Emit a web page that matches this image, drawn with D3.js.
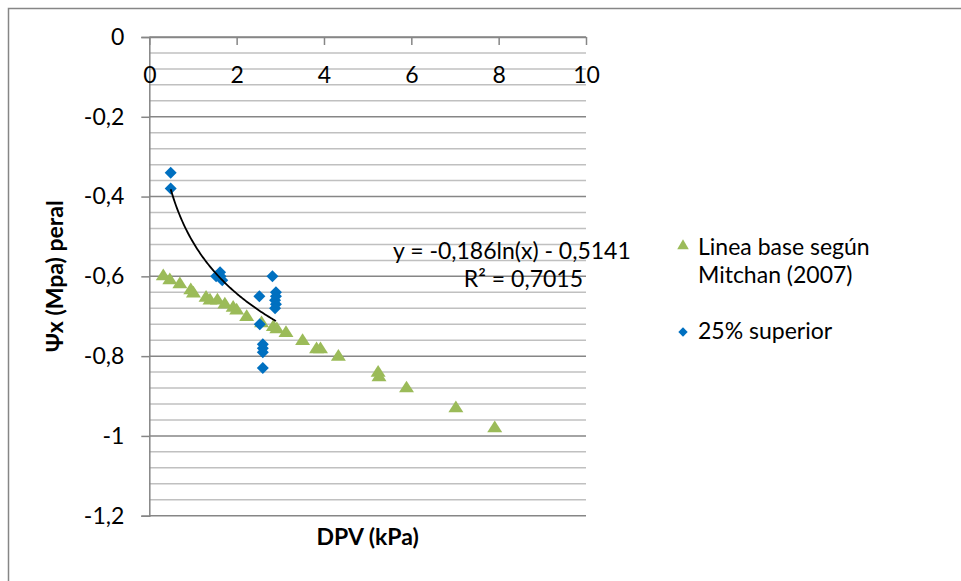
<!DOCTYPE html>
<html>
<head>
<meta charset="utf-8">
<script src="https://cdn.jsdelivr.net/npm/d3@7/dist/d3.min.js"></script>
<style>
  html, body { margin: 0; padding: 0; background: #fff; }
  svg { display: block; font-family: Lato, "Open Sans", sans-serif; }
</style>
</head>
<body>
<svg id="chart" width="961" height="581"></svg>
<script>
// Linea base (Mitchan 2007): DPV (kPa) vs Ψx (MPa)
const baseX = [0.32, 0.47, 0.70, 0.95, 1.01, 1.30, 1.39, 1.56, 1.73, 1.92, 2.00, 2.23, 2.57, 2.84, 2.92, 3.13, 3.51, 3.83, 3.92, 4.33, 5.24, 5.26, 5.89, 7.02, 7.91];
const baseY = [-0.60, -0.61, -0.62, -0.635, -0.643, -0.654, -0.661, -0.661, -0.671, -0.679, -0.686, -0.702, -0.718, -0.727, -0.733, -0.742, -0.762, -0.783, -0.783, -0.802, -0.842, -0.853, -0.881, -0.931, -0.981];

// 25% superior
const supX = [0.49, 0.49, 1.53, 1.62, 1.63, 1.67, 2.52, 2.82, 2.90, 2.90, 2.88, 2.90, 2.88, 2.53, 2.60, 2.60, 2.60, 2.60];
const supY = [-0.34, -0.38, -0.60, -0.59, -0.60, -0.61, -0.65, -0.60, -0.64, -0.65, -0.66, -0.67, -0.68, -0.72, -0.77, -0.78, -0.79, -0.83];

// Logarithmic trend of the 25% superior series
const trendA = -0.186, trendB = -0.5141;
const trendLabel = "y = -0,186ln(x) - 0,5141";
const r2Label = "R² = 0,7015";

const xTicks = [0, 2, 4, 6, 8, 10];
const yTicks = [0, -0.2, -0.4, -0.6, -0.8, -1, -1.2];
const yMinorStep = 0.04;

const seriesNames = ["Linea base según", "Mitchan (2007)", "25% superior"];

const svg = d3.select("#chart");
const green = "#9BBB59", blue = "#0070C0";
const axisGray = "#868686", minorGray = "#C0C0C0";

// chart border
svg.append("rect")
  .attr("x", 8.5).attr("y", 8.5).attr("width", 2000).attr("height", 2000)
  .attr("fill", "none").attr("stroke", axisGray).attr("stroke-width", 1.5);

const x = d3.scaleLinear().domain([0, 10]).range([149.3, 586]);
const y = d3.scaleLinear().domain([0, -1.2]).range([37, 515.7]);

const fmt = v => d3.format("")(+v.toFixed(2)).replace(".", ",").replace("−", "-");

// gridlines: minor every 0.04, major every 0.2
const gridVals = d3.range(0, 31).map(i => -i * yMinorStep);
svg.append("g").selectAll("line").data(gridVals).join("line")
  .attr("x1", x(0)).attr("x2", x(10))
  .attr("y1", d => y(d)).attr("y2", d => y(d))
  .attr("stroke", (d, i) => i % 5 === 0 ? axisGray : minorGray)
  .attr("stroke-width", 1.5);

// y axis
const yAxis = svg.append("g")
  .attr("transform", `translate(${x(0)},0)`)
  .call(d3.axisLeft(y).tickValues(yTicks).tickSize(8).tickPadding(17).tickFormat(fmt));
yAxis.select(".domain").attr("stroke", axisGray).attr("stroke-width", 1.5);
yAxis.selectAll(".tick line").attr("stroke", axisGray).attr("stroke-width", 1.5);
yAxis.selectAll("text").attr("font-size", 23).attr("fill", "#000")
  .attr("font-family", "Lato, 'Open Sans', sans-serif");

// x axis along the top, ticks pointing into the plot, labels below
const xAxis = svg.append("g")
  .attr("transform", `translate(0,${y(0)})`)
  .call(d3.axisBottom(x).tickValues(xTicks).tickSize(8).tickPadding(22).tickSizeOuter(0).tickFormat(d => String(d)));
xAxis.select(".domain").attr("stroke", axisGray).attr("stroke-width", 1.5);
xAxis.selectAll(".tick line").attr("stroke", axisGray).attr("stroke-width", 1.5);
xAxis.selectAll("text").attr("font-size", 23).attr("fill", "#000")
  .attr("font-family", "Lato, 'Open Sans', sans-serif");

// markers
const tri = d3.symbol().type(d3.symbolTriangle).size(88);
const dia = d3.symbol().type(d3.symbolSquare).size(72);

svg.append("g").selectAll("path").data(baseX).join("path")
  .attr("d", tri)
  .attr("transform", (d, i) => `translate(${x(d)},${y(baseY[i])}) scale(1.05,0.95)`)
  .attr("fill", green);

svg.append("g").selectAll("path").data(supX).join("path")
  .attr("d", dia)
  .attr("transform", (d, i) => `translate(${x(d)},${y(supY[i])}) rotate(45)`)
  .attr("fill", blue);

// trend line over the range of the 25% superior series
const tMin = d3.min(supX), tMax = d3.max(supX);
const trendPts = d3.range(0, 101).map(i => {
  const xv = tMin + (tMax - tMin) * i / 100;
  return [xv, trendA * Math.log(xv) + trendB];
});
svg.append("path")
  .attr("d", d3.line().x(d => x(d[0])).y(d => y(d[1]))(trendPts))
  .attr("fill", "none").attr("stroke", "#000").attr("stroke-width", 1.8);

// trend equation
svg.append("text").attr("x", 393).attr("y", 259).attr("font-size", 23).text(trendLabel);
svg.append("text").attr("x", 583).attr("y", 287).attr("font-size", 23)
  .attr("text-anchor", "end").text(r2Label);

// axis titles
svg.append("text").attr("x", (x(0) + x(10)) / 2).attr("y", 545)
  .attr("text-anchor", "middle").attr("font-size", 23).attr("font-weight", "bold")
  .text("DPV (kPa)");
svg.append("text").attr("transform", `translate(63,${(y(0) + y(-1.2)) / 2}) rotate(-90)`)
  .attr("text-anchor", "middle").attr("font-size", 23).attr("font-weight", "bold")
  .text("Ψx (Mpa) peral");

// legend
const lg = svg.append("g");
lg.append("path").attr("d", d3.symbol().type(d3.symbolTriangle).size(58))
  .attr("transform", "translate(683,246)").attr("fill", green);
lg.append("text").attr("x", 698).attr("y", 255).attr("font-size", 23).text(seriesNames[0]);
lg.append("text").attr("x", 698).attr("y", 283).attr("font-size", 23).text(seriesNames[1]);
lg.append("path").attr("d", d3.symbol().type(d3.symbolSquare).size(44))
  .attr("transform", "translate(683,332) rotate(45)").attr("fill", blue);
lg.append("text").attr("x", 698).attr("y", 339).attr("font-size", 23).text(seriesNames[2]);
</script>
</body>
</html>
